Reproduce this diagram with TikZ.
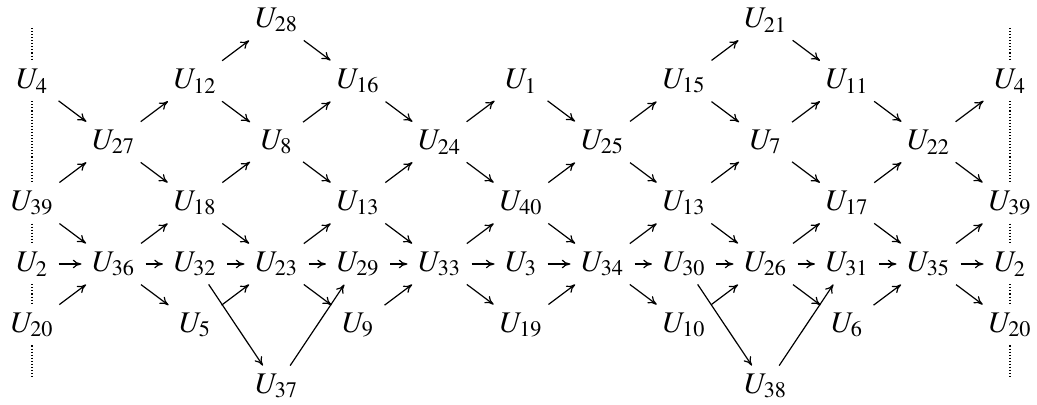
\documentclass[tikz,border=0pt]{standalone}
\usepackage{mathptmx}
\usepackage{tikz}
\usetikzlibrary{arrows.meta}
\tikzset{
  obj/.style ={inner xsep=8pt,inner ysep=6pt,font=\fontsize{22.5}{27}\selectfont},
  map/.style ={-{To[length=6.5pt,width=6.5pt]},line width=0.9pt},
  wrap/.style={line width=0.9pt,dash pattern=on 0.8pt off 1.5pt},
}

\begin{document}
\begin{tikzpicture}[x=61.125pt,y=-45.75pt]
  \useasboundingbox (-0.393,-0.328) rectangle (12.331,6.311);
  % top
  \node[obj] (u28) at (3,0) {$U_{28}$};
  \node[obj] (u21) at (9,0) {$U_{21}$};
  % row 1
  \node[obj] (u4)  at (0,1)  {$U_4$};
  \node[obj] (u12) at (2,1)  {$U_{12}$};
  \node[obj] (u16) at (4,1)  {$U_{16}$};
  \node[obj] (u1)  at (6,1)  {$U_1$};
  \node[obj] (u15) at (8,1)  {$U_{15}$};
  \node[obj] (u11) at (10,1) {$U_{11}$};
  \node[obj] (u4r) at (12,1) {$U_4$};
  % row 2
  \node[obj] (u27) at (1,2)  {$U_{27}$};
  \node[obj] (u8)  at (3,2)  {$U_8$};
  \node[obj] (u24) at (5,2)  {$U_{24}$};
  \node[obj] (u25) at (7,2)  {$U_{25}$};
  \node[obj] (u7)  at (9,2)  {$U_7$};
  \node[obj] (u22) at (11,2) {$U_{22}$};
  % row 3
  \node[obj] (u39)  at (0,3)  {$U_{39}$};
  \node[obj] (u18)  at (2,3)  {$U_{18}$};
  \node[obj] (u13)  at (4,3)  {$U_{13}$};
  \node[obj] (u40)  at (6,3)  {$U_{40}$};
  \node[obj] (u13b) at (8,3)  {$U_{13}$};
  \node[obj] (u17)  at (10,3) {$U_{17}$};
  \node[obj] (u39r) at (12,3) {$U_{39}$};
  % middle row
  \node[obj] (u2)  at (0,4)  {$U_2$};
  \node[obj] (u36) at (1,4)  {$U_{36}$};
  \node[obj] (u32) at (2,4)  {$U_{32}$};
  \node[obj] (u23) at (3,4)  {$U_{23}$};
  \node[obj] (u29) at (4,4)  {$U_{29}$};
  \node[obj] (u33) at (5,4)  {$U_{33}$};
  \node[obj] (u3)  at (6,4)  {$U_3$};
  \node[obj] (u34) at (7,4)  {$U_{34}$};
  \node[obj] (u30) at (8,4)  {$U_{30}$};
  \node[obj] (u26) at (9,4)  {$U_{26}$};
  \node[obj] (u31) at (10,4) {$U_{31}$};
  \node[obj] (u35) at (11,4) {$U_{35}$};
  \node[obj] (u2r) at (12,4) {$U_2$};
  % row 5
  \node[obj] (u20)  at (0,5)  {$U_{20}$};
  \node[obj] (u5)   at (2,5)  {$U_5$};
  \node[obj] (u9)   at (4,5)  {$U_9$};
  \node[obj] (u19)  at (6,5)  {$U_{19}$};
  \node[obj] (u10)  at (8,5)  {$U_{10}$};
  \node[obj] (u6)   at (10,5) {$U_6$};
  \node[obj] (u20r) at (12,5) {$U_{20}$};
  % bottom
  \node[obj] (u37) at (3,6) {$U_{37}$};
  \node[obj] (u38) at (9,6) {$U_{38}$};
  % ends of the dotted lines
  \coordinate (lt) at (0,0.13);  \coordinate (lb) at (0,5.87);
  \coordinate (rt) at (12,0.13); \coordinate (rb) at (12,5.87);
  \draw[wrap] (lt) -- (u4) -- (u39) -- (u2) -- (u20) -- (lb);
  \draw[wrap] (rt) -- (u4r) -- (u39r) -- (u2r) -- (u20r) -- (rb);
  % arrows
  \draw[map] (u4) edge (u27);
  \draw[map] (u39) edge (u27) edge (u36);
  \draw[map] (u2) edge (u36);
  \draw[map] (u20) edge (u36);
  \draw[map] (u27) edge (u12) edge (u18);
  \draw[map] (u36) edge (u18) edge (u32) edge (u5);
  \draw[map] (u12) edge (u28) edge (u8);
  \draw[map] (u18) edge (u8) edge (u23);
  \draw[map] (u32) edge (u23) edge (u37);
  \draw[map] (u5) edge (u23);
  \draw[map] (u28) edge (u16);
  \draw[map] (u8) edge (u16) edge (u13);
  \draw[map] (u23) edge (u13) edge (u29) edge (u9);
  \draw[map] (u37) edge (u29);
  \draw[map] (u16) edge (u24);
  \draw[map] (u13) edge (u24) edge (u33);
  \draw[map] (u29) edge (u33);
  \draw[map] (u9) edge (u33);
  \draw[map] (u24) edge (u1) edge (u40);
  \draw[map] (u33) edge (u40) edge (u3) edge (u19);
  \draw[map] (u1) edge (u25);
  \draw[map] (u40) edge (u25) edge (u34);
  \draw[map] (u3) edge (u34);
  \draw[map] (u19) edge (u34);
  \draw[map] (u25) edge (u15) edge (u13b);
  \draw[map] (u34) edge (u13b) edge (u30) edge (u10);
  \draw[map] (u15) edge (u21) edge (u7);
  \draw[map] (u13b) edge (u7) edge (u26);
  \draw[map] (u30) edge (u26) edge (u38);
  \draw[map] (u10) edge (u26);
  \draw[map] (u21) edge (u11);
  \draw[map] (u7) edge (u11) edge (u17);
  \draw[map] (u26) edge (u17) edge (u31) edge (u6);
  \draw[map] (u38) edge (u31);
  \draw[map] (u11) edge (u22);
  \draw[map] (u17) edge (u22) edge (u35);
  \draw[map] (u31) edge (u35);
  \draw[map] (u6) edge (u35);
  \draw[map] (u22) edge (u4r) edge (u39r);
  \draw[map] (u35) edge (u39r) edge (u2r) edge (u20r);
\end{tikzpicture}
\end{document}
